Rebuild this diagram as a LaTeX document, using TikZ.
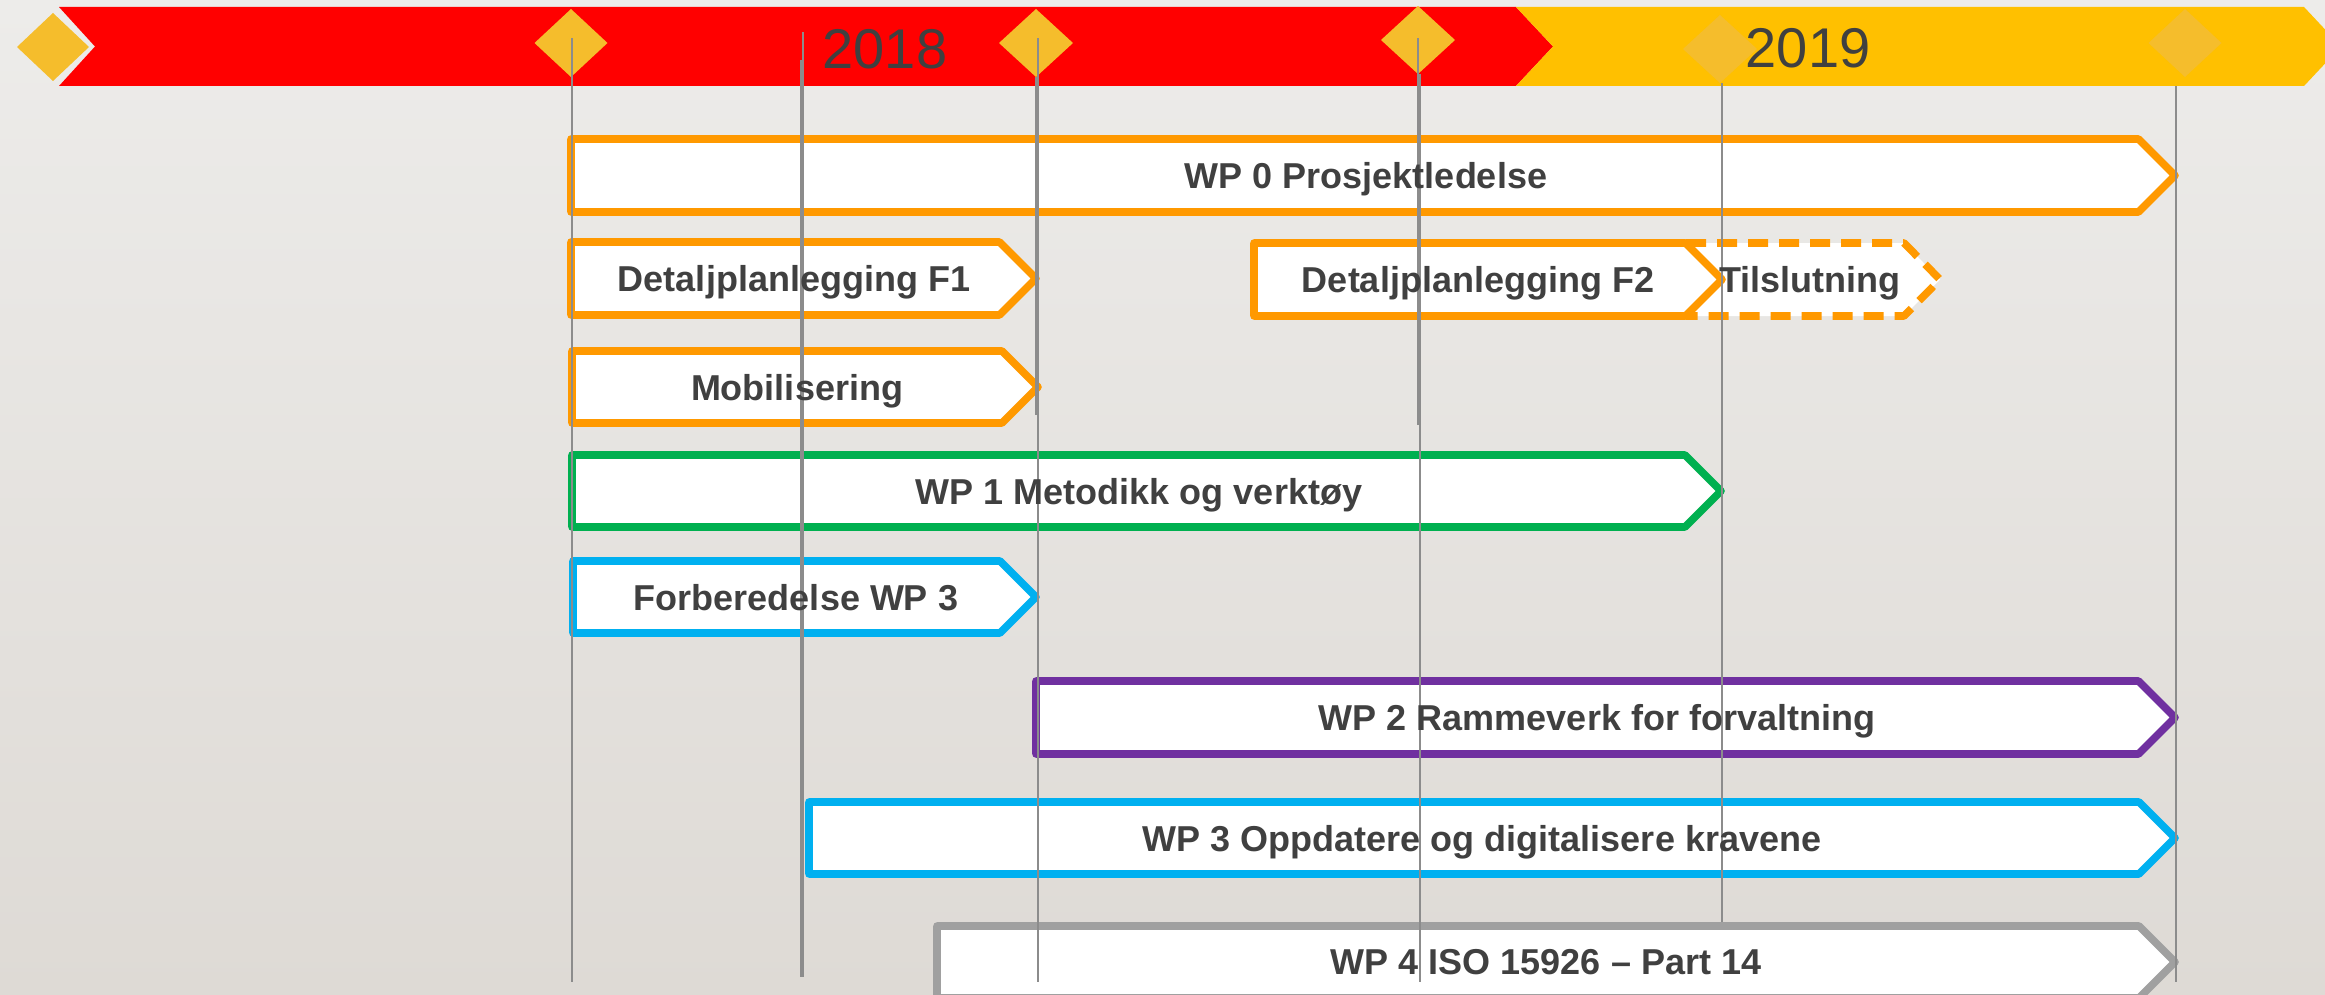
\documentclass[tikz,border=0pt]{standalone}
\usepackage{fontspec}
\setmainfont{Liberation Sans}
\definecolor{bgtop}{HTML}{EDECEA}
\definecolor{bgbot}{HTML}{DEDAD5}
\definecolor{tred}{HTML}{FF0000}
\definecolor{tyel}{HTML}{FFC000}
\definecolor{dia}{HTML}{F5BD2C}
\definecolor{txt}{HTML}{404040}
\definecolor{orng}{HTML}{FF9900}
\definecolor{grn}{HTML}{00B050}
\definecolor{cyn}{HTML}{00B0F0}
\definecolor{purp}{HTML}{7030A0}
\definecolor{gry}{HTML}{A0A0A0}
\definecolor{vline}{HTML}{8C8C8C}
\newcommand\wpbar[5]{\draw[bar=#1] (#2,#4) -- ({#3-(#5-#4)/2},#4) -- (#3,{(#4+#5)/2}) -- ({#3-(#5-#4)/2},#5) -- (#2,#5) -- cycle;}
\newcommand\dmd[4]{\fill[dia] ({#1-#3},#2) -- (#1,{#2-#4}) -- ({#1+#3},#2) -- (#1,{#2+#4}) -- cycle;}
\begin{document}
\begin{tikzpicture}[x=0.5pt,y=-0.5pt,
  bar/.style={draw=#1, line width=3.8pt, fill=white, line join=round},
  vl/.style={draw=vline, line width=1pt},
  lbl/.style={font=\bfseries\fontsize{18}{20}\selectfont, text=txt, anchor=base, inner sep=0pt},
  yr/.style={font=\fontsize{28}{30}\selectfont, text=txt, anchor=base, inner sep=0pt}]
\useasboundingbox (0,0) rectangle (2325,995);
\shade[top color=bgtop,bottom color=bgbot] (0,0) rectangle (2325,995);
% timeline band
\fill[tred] (59,7) -- (1516,7) -- (1553,46.5) -- (1516,86) -- (59,86) -- (95,46.5) -- cycle;
\fill[tyel] (1516,7) -- (2304,7) -- (2341,46.5) -- (2304,86) -- (1516,86) -- (1553,46.5) -- cycle;
% milestones
\dmd{53}{47}{36}{34}
\dmd{571}{43}{36.5}{34}
\dmd{1036}{43}{37}{34}
\dmd{1418}{40}{37}{34}
\dmd{1720}{49}{37}{34}
\dmd{2185}{43}{36.5}{34}
\node[yr] (y2018) at (885,69) {2018};
\node[yr] (y2019) at (1808,68) {2019};
% bars
\wpbar{orng}{571}{2175}{139}{212}
\wpbar{orng}{571}{1036}{242}{315}
\draw[bar=orng, dash pattern=on 10pt off 5.5pt] (1686,243) -- (1904,243) -- (1940,279.5) -- (1904,316) -- (1686,316);
\wpbar{orng}{1254}{1722}{243}{316}
\wpbar{orng}{572}{1038}{351}{423}
\wpbar{grn}{572}{1721}{455}{527}
\wpbar{cyn}{573}{1036}{561}{633}
\wpbar{purp}{1036}{2175}{681}{754}
\wpbar{cyn}{809}{2175}{802}{874}
\wpbar{gry}{937}{2175}{926}{998}
% vertical guide lines
\coordinate (a1) at (572,38);  \coordinate (a2) at (572,982);
\coordinate (b1) at (803,32);  \coordinate (b2) at (803,977);
\coordinate (b3) at (801,60);  \coordinate (b4) at (801,977);
\coordinate (c1) at (1038,38); \coordinate (c2) at (1038,982);
\coordinate (c3) at (1036,77); \coordinate (c4) at (1036,415);
\coordinate (d1) at (1418,38); \coordinate (d2) at (1418,425);
\coordinate (d3) at (1420,74); \coordinate (d4) at (1420,982);
\coordinate (e1) at (1722,83); \coordinate (e2) at (1722,922);
\coordinate (f1) at (2176,86); \coordinate (f2) at (2176,982);
\draw[vl] (a1) -- (a2);
\draw[vl] (b1) -- (b2);
\draw[vl] (b3) -- (b4);
\draw[vl] (c1) -- (c2);
\draw[vl] (c3) -- (c4);
\draw[vl] (d1) -- (d2);
\draw[vl] (d3) -- (d4);
\draw[vl] (e1) -- (e2);
\draw[vl] (f1) -- (f2);
% labels
\node[lbl] (wp0) at (1366,188.5) {WP 0 Prosjektledelse};
\node[lbl] (df1) at (794,291.5) {Detaljplanlegging F1};
\node[lbl] (df2) at (1478,292.5) {Detaljplanlegging F2};
\node[lbl] (tils) at (1810,292.5) {Tilslutning};
\node[lbl] (mob) at (797,400) {Mobilisering};
\node[lbl] (wp1) at (1139,504) {WP 1 Metodikk og verktøy};
\node[lbl] (forb) at (796,610) {Forberedelse WP 3};
\node[lbl] (wp2) at (1597,730.5) {WP 2 Rammeverk for forvaltning};
\node[lbl] (wp3) at (1482,851) {WP 3 Oppdatere og digitalisere kravene};
\node[lbl] (wp4) at (1546,974) {WP 4 ISO 15926 – Part 14};
\end{tikzpicture}
\end{document}
